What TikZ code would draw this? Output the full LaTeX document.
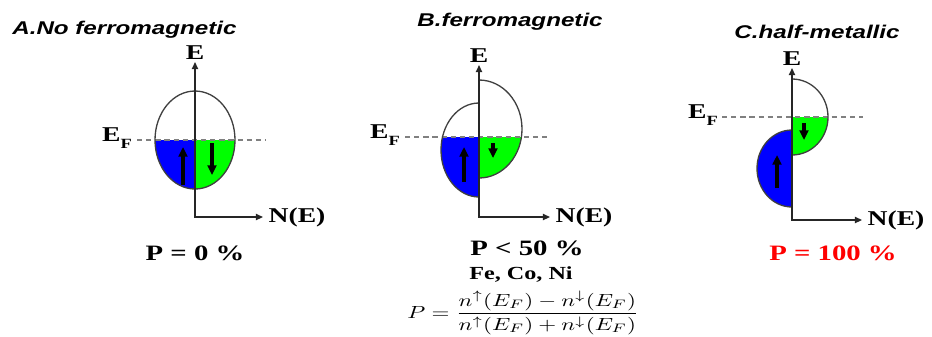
\documentclass[tikz,border=0pt]{standalone}
\usepackage{fontspec}
\setmainfont{Liberation Serif}
\newfontfamily\titlefont{Liberation Sans}
\usetikzlibrary{arrows.meta}
\definecolor{upblue}{RGB}{0,0,255}
\definecolor{dngreen}{RGB}{0,255,0}
\definecolor{pred}{RGB}{255,0,0}
\newcommand{\wide}[1]{\scalebox{1.31}[1]{#1}}
\newcommand{\ef}{E\raisebox{-4.5pt}{\fontsize{8}{9}\selectfont F}}

\begin{document}
\begin{tikzpicture}[
x=0.02cm,y=0.02cm,
axis/.style={line width=0.9pt,black!85,{Triangle[length=4pt,width=3.5pt]}-{Triangle[length=4pt,width=3.5pt]}},
dos/.style={line width=0.75pt,black!75},
fermi/.style={line width=0.8pt,gray,dash pattern=on 3pt off 2.2pt},
spin/.style={line width=2.4pt,-{Triangle[length=5.5pt,width=5pt]}},
title/.style={font=\titlefont\bfseries\itshape\fontsize{10.5}{12}\selectfont,inner sep=0pt},
lbl/.style={font=\bfseries\fontsize{12}{14}\selectfont,inner sep=1pt},
pol/.style={font=\bfseries\fontsize{12.5}{15}\selectfont,inner sep=0pt}
]
\useasboundingbox (0,0) rectangle (932,-336);

% A. no ferromagnetic
\node[title,anchor=west] (tA) at (12,-30) {\wide{A.No ferromagnetic}};
\coordinate (oA) at (195,-217);
\coordinate (eA) at (195,-62);
\coordinate (nA) at (263,-217);
\coordinate (fA1) at (137,-140);
\coordinate (fA2) at (265,-140);
\begin{scope}
\clip (140,-140) rectangle (250,-200);
\fill[upblue] (195,-91) arc (90:270:40 and 49) -- cycle;
\fill[dngreen] (195,-91) arc (90:-90:40 and 49) -- cycle;
\end{scope}
\draw[fermi] (fA1) -- (fA2);
\draw[dos] (195,-140) ellipse (40 and 49);
\draw[axis] (eA) -- (oA) -- (nA);
\draw[spin] (183,-185) -- (183,-147);
\draw[spin] (212,-143) -- (212,-175);
\node[lbl,anchor=south] (lEA) at (eA) {\wide{E}};
\node[lbl,anchor=west,inner sep=3pt] (lNA) at (nA) {\wide{N(E)}};
\node[lbl,anchor=base east] (lFA) at (134,-141) {\wide{\ef}};
\node[pol] (pA) at (195,-253) {\wide{P = 0 \%}};

% B. ferromagnetic
\node[title] (tB) at (510,-22) {\wide{B.ferromagnetic}};
\coordinate (oB) at (479,-217);
\coordinate (eB) at (479,-65);
\coordinate (nB) at (550,-217);
\coordinate (fB1) at (405,-137);
\coordinate (fB2) at (547,-137);
\begin{scope}
\clip (420,-137) rectangle (540,-210);
\fill[upblue] (479,-103) arc (90:270:38 and 47) -- cycle;
\fill[dngreen] (479,-80) arc (90:-90:43 and 49) -- cycle;
\end{scope}
\draw[fermi] (fB1) -- (fB2);
\draw[dos] (479,-103) arc (90:270:38 and 47);
\draw[dos] (479,-80) arc (90:-90:43 and 49);
\draw[axis] (eB) -- (oB) -- (nB);
\draw[spin] (464,-182) -- (464,-147);
\draw[spin] (493,-143) -- (493,-158);
\node[lbl,anchor=south] (lEB) at (eB) {\wide{E}};
\node[lbl,anchor=west,inner sep=3pt] (lNB) at (nB) {\wide{N(E)}};
\node[lbl,anchor=base east] (lFB) at (402,-138) {\wide{\ef}};
\node[pol] (pB) at (527,-248) {\wide{P < 50 \%}};
\node[lbl,font=\bfseries\fontsize{10.5}{12}\selectfont] (mB) at (521,-275) {\wide{Fe, Co, Ni}};
\node[inner sep=0pt] (fml) at (523,-313)
  {\wide{$\displaystyle P=\frac{n^{\uparrow}(E_F)-n^{\downarrow}(E_F)}{n^{\uparrow}(E_F)+n^{\downarrow}(E_F)}$}};

% C. half-metallic
\node[title] (tC) at (817,-32) {\wide{C.half-metallic}};
\coordinate (oC) at (792,-220);
\coordinate (eC) at (792,-68);
\coordinate (nC) at (862,-220);
\coordinate (fC1) at (722,-117);
\coordinate (fC2) at (863,-117);
\begin{scope}
\clip (740,-117) rectangle (840,-215);
\fill[dngreen] (792,-79) arc (90:-90:36 and 38) -- cycle;
\end{scope}
\fill[upblue] (792,-130) arc (90:270:35 and 38.5) -- cycle;
\draw[fermi] (fC1) -- (fC2);
\draw[dos] (792,-79) arc (90:-90:36 and 38);
\draw[dos] (792,-130) arc (90:270:35 and 38.5);
\draw[axis] (eC) -- (oC) -- (nC);
\draw[spin] (777,-188) -- (777,-155);
\draw[spin] (804,-123) -- (804,-140);
\node[lbl,anchor=south] (lEC) at (eC) {\wide{E}};
\node[lbl,anchor=west,inner sep=3pt] (lNC) at (nC) {\wide{N(E)}};
\node[lbl,anchor=base east] (lFC) at (720,-118) {\wide{\ef}};
\node[pol,text=pred] (pC) at (833,-253) {\wide{P = 100 \%}};
\end{tikzpicture}
\end{document}
